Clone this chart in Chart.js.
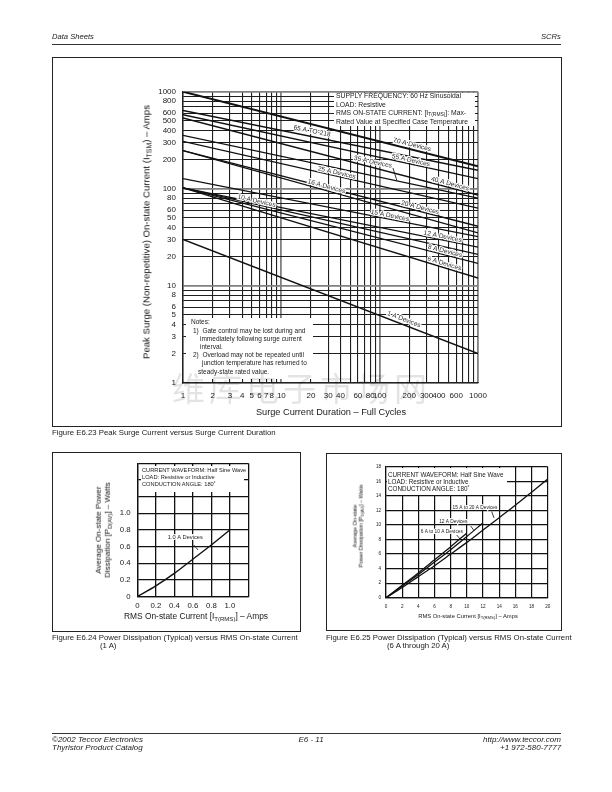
<!DOCTYPE html>
<html><head><meta charset="utf-8"><title>Teccor SCR surge and power charts</title>
<script src="https://cdn.jsdelivr.net/npm/chart.js@4.4.1/dist/chart.umd.min.js"></script>
<style>
html,body{margin:0;padding:0;background:#fff}
body{width:612px;height:792px;position:relative;overflow:hidden;font-family:"Liberation Sans",Arial,Helvetica,sans-serif;color:#1a1a1a}
.a{position:absolute;white-space:nowrap;line-height:1;will-change:transform}
.it{font-style:italic}
.rule{position:absolute;height:0;border-top:1px solid #333}
.frame{position:absolute;box-sizing:border-box;border:1px solid #222;pointer-events:none}
canvas{position:absolute}
.box{position:absolute;background:#fff}
.rot{position:absolute;white-space:nowrap;transform:translate(-50%,-50%) rotate(-90deg);text-align:center;line-height:1.15;will-change:transform;color:#111}
sub{font-size:72%;vertical-align:-0.28em;line-height:0}
.wm{position:absolute;white-space:nowrap;font-family:"Noto Sans CJK SC",sans-serif;color:rgba(0,0,0,0.11);font-size:33px;letter-spacing:4px;line-height:1;will-change:transform}
</style></head>
<body>
<div class="a it" style="left:52px;top:33.3px;font-size:7.6px">Data Sheets</div>
<div class="a it" style="right:51px;top:33.3px;font-size:7.6px">SCRs</div>
<div class="rule" style="left:52px;top:44px;width:509px"></div>

<canvas id="c1" width="510" height="369" style="left:52px;top:57px"></canvas>
<div class="frame" style="left:52px;top:57px;width:510px;height:370px"></div>
<div class="box" style="left:334px;top:92.6px;width:141px;height:33px;font-size:6.8px">
 <div class="a" style="left:2px;top:0.6px">SUPPLY FREQUENCY: 60 Hz Sinusoidal</div>
 <div class="a" style="left:2px;top:9px">LOAD: Resistive</div>
 <div class="a" style="left:2px;top:17.6px">RMS ON-STATE CURRENT: [I<sub>T(RMS)</sub>]: Max-</div>
 <div class="a" style="left:2px;top:26px">Rated Value at Specified Case Temperature</div>
</div>
<div class="box" style="left:186px;top:317.5px;width:127px;height:61.5px;font-size:6.5px">
 <div class="a" style="left:5px;top:1px">Notes:</div>
 <div class="a" style="left:7px;top:10px">1)&nbsp; Gate control may be lost during and</div>
 <div class="a" style="left:14px;top:18.6px">immediately following surge current</div>
 <div class="a" style="left:14px;top:26px">interval.</div>
 <div class="a" style="left:7px;top:34.6px">2)&nbsp; Overload may not be repeated until</div>
 <div class="a" style="left:15.5px;top:42.6px">junction temperature has returned to</div>
 <div class="a" style="left:12px;top:51.3px">steady-state rated value.</div>
</div>
<div class="rot" style="left:146px;top:231.5px;font-size:9.6px">Peak Surge (Non-repetitive) On-state Current (I<sub>TSM</sub>) – Amps</div>
<div class="a" style="left:330.8px;top:408.3px;font-size:9.2px;transform:translateX(-50%)">Surge Current Duration – Full Cycles</div>
<div class="wm" style="left:172px;top:371px">维库电子市场网</div>
<div class="a" style="left:52px;top:428.6px;font-size:7.8px">Figure E6.23 Peak Surge Current versus Surge Current Duration</div>

<canvas id="c2" width="248" height="179" style="left:52px;top:452px"></canvas>
<div class="frame" style="left:52px;top:452px;width:249px;height:180px"></div>
<div class="box" style="left:141px;top:466px;width:103px;height:26px;font-size:5.7px">
 <div class="a" style="left:1px;top:1.8px">CURRENT WAVEFORM: Half Sine Wave</div>
 <div class="a" style="left:1px;top:9.4px">LOAD: Resistive or Inductive</div>
 <div class="a" style="left:1px;top:16.1px">CONDUCTION ANGLE: 180˚</div>
</div>
<div class="rot" style="left:102.5px;top:530px;font-size:8px">Average On-state Power<br>Dissipation [P<sub>D(AV)</sub>] – Watts</div>
<div class="a" style="left:195.8px;top:612.3px;font-size:8.4px;transform:translateX(-50%)">RMS On-state Current [I<sub>T(RMS)</sub>] – Amps</div>
<div class="a" style="left:52px;top:633.6px;font-size:7.8px">Figure E6.24 Power Dissipation (Typical) versus RMS On-state Current</div>
<div class="a" style="left:100px;top:641.6px;font-size:7.8px">(1 A)</div>

<canvas id="c3" width="235" height="177" style="left:326px;top:453px"></canvas>
<div class="frame" style="left:326px;top:453px;width:236px;height:178px"></div>
<div class="box" style="left:387px;top:468px;width:120px;height:26.5px;font-size:6.3px">
 <div class="a" style="left:1.3px;top:3.8px">CURRENT WAVEFORM: Half Sine Wave</div>
 <div class="a" style="left:1.3px;top:11.1px">LOAD: Resistive or Inductive</div>
 <div class="a" style="left:1.3px;top:18.1px">CONDUCTION ANGLE: 180˚</div>
</div>
<div class="rot" style="left:358.3px;top:526px;font-size:5.5px">Average On-state<br>Power Dissipation [P<sub>D(AV)</sub>] – Watts</div>
<div class="a" style="left:468px;top:613.8px;font-size:5.8px;transform:translateX(-50%)">RMS On-state Current [I<sub>T(RMS)</sub>] – Amps</div>
<div class="a" style="left:326px;top:633.6px;font-size:7.8px">Figure E6.25 Power Dissipation (Typical) versus RMS On-state Current</div>
<div class="a" style="left:387px;top:641.6px;font-size:7.8px">(6 A through 20 A)</div>

<div class="rule" style="left:52px;top:733px;width:509px"></div>
<div class="a it" style="left:52px;top:736px;font-size:8px">©2002 Teccor Electronics</div>
<div class="a it" style="left:52px;top:744px;font-size:8px">Thyristor Product Catalog</div>
<div class="a it" style="left:311px;top:736px;font-size:8px;transform:translateX(-50%)">E6 - 11</div>
<div class="a it" style="right:51px;top:736px;font-size:8px">http://www.teccor.com</div>
<div class="a it" style="right:51px;top:744px;font-size:8px">+1 972-580-7777</div>

<script>
// ---------- Figure E6.23 data ----------
const cycleTicks = [1,2,3,4,5,6,7,8,9,10,20,30,40,50,60,70,80,90,100,200,300,400,500,600,700,800,900,1000];
const cycleTickLabels = [1,2,3,4,5,6,7,8,10,20,30,40,60,80,100,200,300,400,600,1000];
const surgeTicks = [1,2,3,4,5,6,7,8,9,10,20,30,40,50,60,70,80,90,100,200,300,400,500,600,700,800,900,1000];
const surgeTickLabels = [1,2,3,4,5,6,8,10,20,30,40,50,60,80,100,200,300,400,500,600,800,1000];
const durationSpan = [1, 1000];
const deviceNames = ['70 A Devices','65 A TO-218','55 A Devices','40 A Devices','35 A Devices','25 A Devices','20 A Devices','16 A Devices','15 A Devices','12 A Devices','10 A Devices','8 A Devices','6 A Devices','1 A Devices'];
const surgeAtOneCycle = [1000,640,579,536,355,308,247,247,127,102,102,102,102,30];
const surgeAtThousandCycles = [170,155,127,86,80,63,41,35,32,25,21,17,12,2];

// ---------- Figure E6.24 data ----------
const rmsCurrent1A = [0,0.2,0.4,0.6,0.8,1.0];
const power1A = [0,0.13,0.28,0.45,0.62,0.80];
const currentTicks1A = [0,0.2,0.4,0.6,0.8,1.0,1.2];
const currentLabels1A = ['0','0.2','0.4','0.6','0.8','1.0',''];
const powerTicks1A = [0,0.2,0.4,0.6,0.8,1.0,1.2,1.4,1.6];
const powerLabels1A = ['0','0.2','0.4','0.6','0.8','1.0','','',''];

// ---------- Figure E6.25 data ----------
const rmsCurrent = [0,2,4,6,8,10,12,14,16,18,20];
const power6to10A = [0,1.7,3.4,5.2,7.0,8.9];
const power12A = [0,1.6,3.2,4.9,6.6,8.4,10.3];
const power15to20A = [0,1.4,2.9,4.4,6.0,7.6,9.3,11.0,12.7,14.5,16.3];
const currentTicks = [0,2,4,6,8,10,12,14,16,18,20];
const powerTicks = [0,2,4,6,8,10,12,14,16,18];

// ---------- styling / placement (not data) ----------
const FONT = '"Liberation Sans", Arial, Helvetica, sans-serif';
const labelAtCycle = [208,20,204,508,80,36,252,28,125,431,5.5,452,442,169];
const labelLift = [4.8,5.4,3.8,3.8,13.5,3.4,3.7,4,3.7,3.5,3.4,3.6,3.9,5];
const decades = [1,10,100,1000];

const lineLabels = {
  id:'lineLabels',
  afterDatasetsDraw(chart, args, opts){
    const {ctx, scales:{x, y}} = chart;
    chart.data.datasets.forEach((ds, i) => {
      const a = ds.data[0], b = ds.data[ds.data.length-1];
      const x0 = x.getPixelForValue(a.x), y0 = y.getPixelForValue(a.y);
      const x1 = x.getPixelForValue(b.x), y1 = y.getPixelForValue(b.y);
      const ang = Math.atan2(y1-y0, x1-x0);
      const px = x.getPixelForValue(opts.at[i]);
      const py = y0 + (px-x0)*Math.tan(ang);
      ctx.save();
      ctx.translate(px, py); ctx.rotate(ang);
      ctx.font = opts.font; ctx.textAlign='center'; ctx.textBaseline='middle';
      ctx.lineWidth = 2.4; ctx.strokeStyle='#fff'; ctx.lineJoin='round';
      ctx.strokeText(ds.label, 0, -opts.lift[i]);
      ctx.fillStyle = '#2a2a2a';
      ctx.fillText(ds.label, 0, -opts.lift[i]);
      ctx.restore();
      if (opts.leader && opts.leader.index === i) {
        const lx = x.getPixelForValue(opts.leader.at);
        const ly = y0 + (lx-x0)*Math.tan(ang);
        const cx = px + Math.sin(ang)*opts.lift[i], cy = py - Math.cos(ang)*opts.lift[i];
        ctx.save(); ctx.strokeStyle='#222'; ctx.lineWidth=0.9;
        ctx.beginPath(); ctx.moveTo(cx+opts.leader.from[0], cy+opts.leader.from[1]); ctx.lineTo(lx, ly); ctx.stroke();
        ctx.restore();
      }
    });
  }
};

const notes = {
  id:'notes',
  afterDatasetsDraw(chart, args, opts){
    const {ctx, scales:{x, y}} = chart;
    (opts.items||[]).forEach(n => {
      const ax = x.getPixelForValue(n.at[0]), ay = y.getPixelForValue(n.at[1]);
      ctx.save();
      ctx.strokeStyle='#111'; ctx.lineWidth=0.8;
      ctx.beginPath(); ctx.moveTo(ax+n.lead[0], ay+n.lead[1]); ctx.lineTo(ax+n.end[0], ay+n.end[1]); ctx.stroke();
      ctx.font = opts.font; ctx.textAlign='center'; ctx.textBaseline='middle';
      ctx.lineWidth=2; ctx.strokeStyle='#fff'; ctx.strokeText(n.text, ax+n.pos[0], ay+n.pos[1]);
      ctx.fillStyle='#222'; ctx.fillText(n.text, ax+n.pos[0], ay+n.pos[1]);
      ctx.restore();
    });
  }
};

// ---------- Chart 1 ----------
new Chart(document.getElementById('c1'), {
  type:'scatter',
  data:{ datasets: deviceNames.map((name, i) => ({
    label: name,
    data: [{x: durationSpan[0], y: surgeAtOneCycle[i]}, {x: durationSpan[1], y: surgeAtThousandCycles[i]}],
    showLine: true, borderColor:'#111', borderWidth: i===0 ? 1.9 : 1.35, pointRadius:0
  }))},
  options:{
    responsive:false, animation:false, events:[],
    layout:{padding:{left:81, right:84, top:34.7, bottom:13.3}},
    plugins:{legend:{display:false}, tooltip:{enabled:false},
      lineLabels:{at:labelAtCycle, lift:labelLift, font:'6.6px '+FONT, leader:{index:4, at:150, from:[20,6]}}},
    scales:{
      x:{type:'logarithmic', min:1, max:1000,
        afterBuildTicks: s => { s.ticks = cycleTicks.map(v => ({value:v})); },
        afterFit: s => { s.height = 30; },
        ticks:{autoSkip:false, maxRotation:0, minRotation:0, padding:8, color:'#1a1a1a', font:{family:FONT, size:8},
          callback: v => cycleTickLabels.includes(v) ? String(v) : ''},
        grid:{drawTicks:false, color: c => (c.tick && decades.includes(c.tick.value)) ? '#808080' : '#1e1e1e',
          lineWidth: c => (c.tick && decades.includes(c.tick.value)) ? 1.8 : 1.1},
        border:{display:true, color:'#222', width:1.2}
      },
      y:{type:'logarithmic', min:1, max:1000,
        afterBuildTicks: s => { s.ticks = surgeTicks.map(v => ({value:v})); },
        afterFit: s => { s.width = 50; },
        ticks:{autoSkip:false, padding:7, color:'#1a1a1a', font:{family:FONT, size:8},
          callback: v => surgeTickLabels.includes(v) ? String(v) : ''},
        grid:{drawTicks:false, color: c => (c.tick && decades.includes(c.tick.value)) ? '#808080' : '#1e1e1e',
          lineWidth: c => (c.tick && decades.includes(c.tick.value)) ? 1.8 : 1.1},
        border:{display:true, color:'#222', width:1.2}
      }
    }
  },
  plugins:[lineLabels]
});

// ---------- Chart 2 ----------
new Chart(document.getElementById('c2'), {
  type:'scatter',
  data:{ datasets:[{ label:'1.0 A Devices',
    data: rmsCurrent1A.map((v,i) => ({x:v, y:power1A[i]})),
    showLine:true, borderColor:'#111', borderWidth:1.4, pointRadius:0, cubicInterpolationMode:'monotone' }]},
  options:{
    responsive:false, animation:false, events:[],
    layout:{padding:{left:55.3, right:51.7, top:11.3, bottom:14.3}},
    plugins:{legend:{display:false}, tooltip:{enabled:false},
      notes:{font:'5.7px '+FONT, items:[{text:'1.0 A Devices', at:[0.66,0.50], pos:[-13.1,-17.7], lead:[-4.6,-10], end:[-0.3,-5]}]}},
    scales:{
      x:{type:'linear', min:0, max:1.2,
        afterBuildTicks: s => { s.ticks = currentTicks1A.map(v => ({value:v})); },
        afterFit: s => { s.height = 20; },
        ticks:{autoSkip:false, maxRotation:0, padding:4.5, color:'#1a1a1a', font:{family:FONT, size:7.8},
          callback: (v,i) => currentLabels1A[i]},
        grid:{drawTicks:false, color:'#111', lineWidth:1.3},
        border:{display:true, color:'#111', width:1.3}
      },
      y:{type:'linear', min:0, max:1.6,
        afterBuildTicks: s => { s.ticks = powerTicks1A.map(v => ({value:v})); },
        afterFit: s => { s.width = 30; },
        ticks:{autoSkip:false, padding:6.6, color:'#1a1a1a', font:{family:FONT, size:7.8},
          callback: (v,i) => powerLabels1A[i]},
        grid:{drawTicks:false, color:'#111', lineWidth:1.3},
        border:{display:true, color:'#111', width:1.3}
      }
    }
  },
  plugins:[notes]
});

// ---------- Chart 3 ----------
const mk = (label, ys) => ({ label, data: ys.map((v,i) => ({x:rmsCurrent[i], y:v})),
  showLine:true, borderColor:'#111', borderWidth:1.3, pointRadius:0, cubicInterpolationMode:'monotone' });
new Chart(document.getElementById('c3'), {
  type:'scatter',
  data:{ datasets:[ mk('6 A to 10 A Devices', power6to10A), mk('12 A Devices', power12A), mk('15 A to 20 A Devices', power15to20A) ]},
  options:{
    responsive:false, animation:false, events:[],
    layout:{padding:{left:30, right:13.3, top:13.7, bottom:12.3}},
    plugins:{legend:{display:false}, tooltip:{enabled:false},
      notes:{font:'4.8px '+FONT, items:[
        {text:'15 A to 20 A Devices', at:[13.36,10.46], pos:[-19,-13.9], lead:[-2.3,-9.9], end:[0,-3.6]},
        {text:'12 A Devices', at:[10.88,9.24], pos:[-20.7,-8.75], lead:[-3.3,-4.45], end:[0,0]},
        {text:'6 A to 10 A Devices', at:[9.15,8.09], pos:[-18.2,-7.1], lead:[-3.3,-3.8], end:[0,0]}
      ]}},
    scales:{
      x:{type:'linear', min:0, max:20,
        afterBuildTicks: s => { s.ticks = currentTicks.map(v => ({value:v})); },
        afterFit: s => { s.height = 20; },
        ticks:{autoSkip:false, maxRotation:0, padding:6, color:'#1a1a1a', font:{family:FONT, size:4.6},
          callback: v => String(v)},
        grid:{drawTicks:false, color:'#111', lineWidth:1.2},
        border:{display:true, color:'#111', width:1.2}
      },
      y:{type:'linear', min:0, max:18,
        afterBuildTicks: s => { s.ticks = powerTicks.map(v => ({value:v})); },
        afterFit: s => { s.width = 30; },
        ticks:{autoSkip:false, padding:5, color:'#1a1a1a', font:{family:FONT, size:4.6},
          callback: v => String(v)},
        grid:{drawTicks:false, color:'#111', lineWidth:1.2},
        border:{display:true, color:'#111', width:1.2}
      }
    }
  },
  plugins:[notes]
});
</script>
</body></html>
